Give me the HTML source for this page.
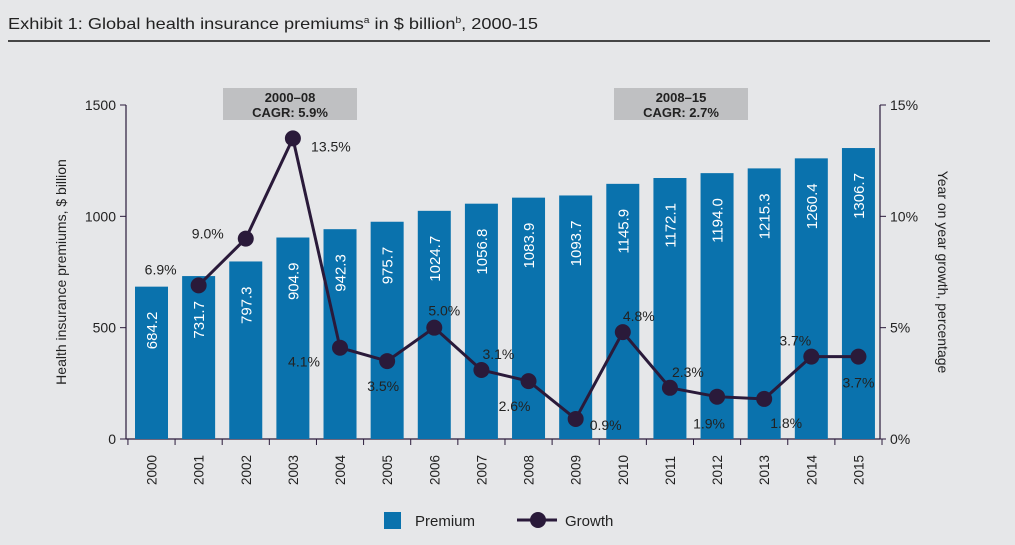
<!DOCTYPE html>
<html><head><meta charset="utf-8"><style>
body{margin:0;background:#e6e7e9;}
svg{display:block;font-family:"Liberation Sans",sans-serif;}
</style></head><body>
<svg id="chart" width="1015" height="545" viewBox="0 0 1015 545" xmlns="http://www.w3.org/2000/svg">
<rect width="1015" height="545" fill="#e6e7e9"/>
<text x="8" y="29" font-size="16" fill="#222" textLength="530" lengthAdjust="spacingAndGlyphs">Exhibit 1: Global health insurance premiums<tspan font-size="9" dy="-6">a</tspan><tspan dy="6"> in $ billion</tspan><tspan font-size="9" dy="-6">b</tspan><tspan dy="6">, 2000-15</tspan></text>
<line x1="8" y1="41" x2="990" y2="41" stroke="#111" stroke-width="1.5"/>
<g>
<rect x="223" y="88" width="134" height="32" fill="#bfc0c2"/>
<text x="290" y="102" font-size="13" font-weight="bold" text-anchor="middle" fill="#222">2000–08</text>
<text x="290" y="117" font-size="13" font-weight="bold" text-anchor="middle" fill="#222">CAGR: 5.9%</text>
</g>
<g>
<rect x="614" y="88" width="134" height="32" fill="#bfc0c2"/>
<text x="681" y="102" font-size="13" font-weight="bold" text-anchor="middle" fill="#222">2008–15</text>
<text x="681" y="117" font-size="13" font-weight="bold" text-anchor="middle" fill="#222">CAGR: 2.7%</text>
</g>
<g id="axes"></g>
<g id="bars"></g>
<g id="line"></g>
<text transform="translate(66,272) rotate(-90)" font-size="14" text-anchor="middle" fill="#222">Health insurance premiums, $ billion</text>
<text transform="translate(938,272) rotate(90)" font-size="14" text-anchor="middle" fill="#222">Year on year growth, percentage</text>
<g>
<rect x="384" y="512" width="17" height="17" fill="#0a72ad"/>
<text x="415" y="526" font-size="15" fill="#222">Premium</text>
<line x1="517" y1="520" x2="557" y2="520" stroke="#2a1a3a" stroke-width="3"/>
<circle cx="538" cy="520" r="8" fill="#2a1a3a"/>
<text x="565" y="526" font-size="15" fill="#222">Growth</text>
</g>
</svg>
<script>
const years=["2000","2001","2002","2003","2004","2005","2006","2007","2008","2009","2010","2011","2012","2013","2014","2015"];
const premiums=[684.2,731.7,797.3,904.9,942.3,975.7,1024.7,1056.8,1083.9,1093.7,1145.9,1172.1,1194.0,1215.3,1260.4,1306.7];
const growth=[null,6.9,9.0,13.5,4.1,3.5,5.0,3.1,2.6,0.9,4.8,2.3,1.9,1.8,3.7,3.7];
const leftTicks=[0,500,1000,1500];
const rightTicks=[0,5,10,15];
const labelOffsets=[null,[-38,-16],[-38,-5],[38,8],[-36,14],[-4,25],[10,-17],[17,-16],[-14,25],[30,6],[16,-16],[18,-16],[-8,27],[22,24],[-16,-16],[0,26]];
const NS="http://www.w3.org/2000/svg";
const X0=126,X1=880,Y0=439,Y1=105;
const yL=v=>Y0-(v/1500)*(Y0-Y1);
const yR=v=>Y0-(v/15)*(Y0-Y1);
const step=47.13,first=151.5;
const xC=i=>first+i*step;
function mk(t,a,p){const e=document.createElementNS(NS,t);for(const k in a)e.setAttribute(k,a[k]);p.appendChild(e);return e;}
const axes=document.getElementById('axes'),bars=document.getElementById('bars'),line=document.getElementById('line');
let e;
e=mk('line',{x1:X0,y1:Y1,x2:X0,y2:Y0,stroke:'#2a1a3a','stroke-width':1.2},axes);


e=mk('line',{x1:X1,y1:Y1,x2:X1,y2:Y0,stroke:'#2a1a3a','stroke-width':1.2},axes);


e=mk('line',{x1:X0,y1:Y0,x2:X1,y2:Y0,stroke:'#2a1a3a','stroke-width':1.2},axes);


leftTicks.forEach(v=>{const y=yL(v);
mk('line',{x1:X0-6,y1:y,x2:X0,y2:y,stroke:'#2a1a3a'},axes);
e=mk('text',{x:X0-10,y:y+5,'font-size':14,'text-anchor':'end',fill:'#222'},axes);e.textContent=v;

});
rightTicks.forEach(v=>{const y=yR(v);
mk('line',{x1:X1,y1:y,x2:X1+6,y2:y,stroke:'#2a1a3a'},axes);
e=mk('text',{x:X1+10,y:y+5,'font-size':14,fill:'#222'},axes);e.textContent=v+'%';

});
for(let i=0;i<=years.length;i++){const x=first-step/2+i*step;mk('line',{x1:x,y1:Y0,x2:x,y2:Y0+6,stroke:'#2a1a3a'},axes);}
years.forEach((yr,i)=>{
e=mk('text',{transform:`translate(${xC(i)+5},485) rotate(-90)`,'font-size':13.5,fill:'#222'},axes);e.textContent=yr;

});
premiums.forEach((v,i)=>{const y=yL(v);
e=mk('rect',{x:xC(i)-16.5,y:y,width:33,height:Y0-y,fill:'#0a72ad'},bars);


e=mk('text',{transform:`translate(${xC(i)+5.5},${y+25}) rotate(-90)`,'font-size':15,'text-anchor':'end',fill:'#fff'},bars);e.textContent=v.toFixed(1);

});
let pts=[];growth.forEach((g,i)=>{if(g!==null)pts.push([xC(i),yR(g)]);});
e=mk('polyline',{points:pts.map(p=>p.join(',')).join(' '),fill:'none',stroke:'#2a1a3a','stroke-width':3},line);


growth.forEach((g,i)=>{if(g===null)return;const x=xC(i),y=yR(g);
e=mk('circle',{cx:x,cy:y,r:8,fill:'#2a1a3a'},line);


const o=labelOffsets[i];
e=mk('text',{x:x+o[0],y:y+o[1]+5,'font-size':14,'text-anchor':'middle',fill:'#222'},line);e.textContent=g.toFixed(1)+'%';

});
</script>
</body></html>
